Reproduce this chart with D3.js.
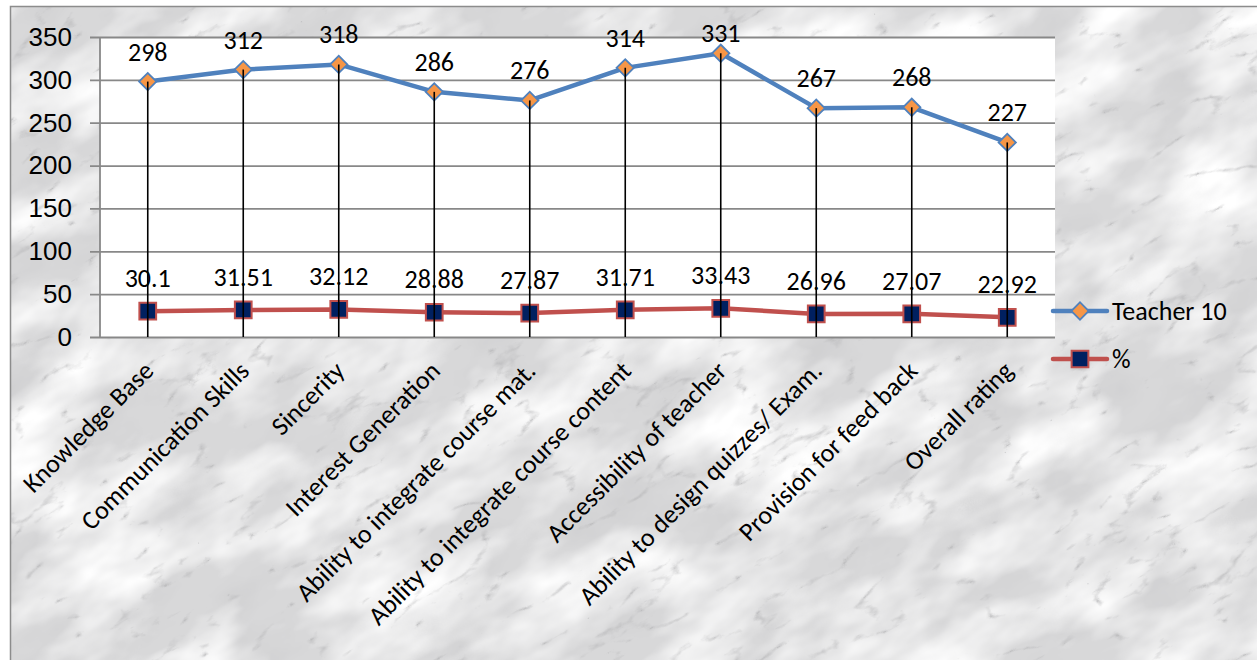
<!DOCTYPE html>
<html>
<head>
<meta charset="utf-8">
<script src="https://cdn.jsdelivr.net/npm/d3@7"></script>
<style>
  html, body { margin: 0; padding: 0; background: #fff; }
  svg { display: block; font-family: Carlito, Calibri, Lato, sans-serif; }
</style>
</head>
<body>
<svg id="chart" width="1257" height="660"></svg>
<script>
// ---- data ----
var categories = ["Knowledge Base", "Communication Skills", "Sincerity", "Interest Generation",
  "Ability to integrate course mat.", "Ability to integrate course content", "Accessibility of teacher",
  "Ability to design quizzes/ Exam.", "Provision for feed back", "Overall rating"];
var teacher = [298, 312, 318, 286, 276, 314, 331, 267, 268, 227];
var percent = [30.1, 31.51, 32.12, 28.88, 27.87, 31.71, 33.43, 26.96, 27.07, 22.92];
var percentLabels = ["30.1", "31.51", "32.12", "28.88", "27.87", "31.71", "33.43", "26.96", "27.07", "22.92"];
var yTicks = [0, 50, 100, 150, 200, 250, 300, 350];
var seriesNames = ["Teacher 10", "%"];

// ---- layout ----
var W = 1257, H = 660;
var plot = {left: 100, right: 1055, top: 37, bottom: 337};
var fontSize = 26;

var svg = d3.select("#chart");
var defs = svg.append("defs");

// marble-ish background texture
defs.append("clipPath").attr("id", "areaClip")
  .append("rect").attr("x", 10).attr("y", 6).attr("width", W).attr("height", H);

var f = defs.append("filter").attr("id", "marble")
  .attr("x", 0).attr("y", 0).attr("width", 1).attr("height", 1);
f.append("feFlood").attr("flood-color", "#d8d8d9").attr("result", "base");
// soft grey clouds
f.append("feTurbulence").attr("type", "fractalNoise").attr("baseFrequency", "0.012 0.02")
  .attr("numOctaves", 4).attr("seed", 11).attr("result", "cloud2");
f.append("feColorMatrix").attr("in", "cloud2").attr("type", "matrix")
  .attr("values", "0 0 0 0 0.63  0 0 0 0 0.63  0 0 0 0 0.64  2.2 0 0 0 -1.0").attr("result", "grey");
// white patches
f.append("feTurbulence").attr("type", "fractalNoise").attr("baseFrequency", "0.008 0.016")
  .attr("numOctaves", 4).attr("seed", 7).attr("result", "cloud");
f.append("feColorMatrix").attr("in", "cloud").attr("type", "matrix")
  .attr("values", "0 0 0 0 1  0 0 0 0 1  0 0 0 0 1  2.6 0 0 0 -1.0").attr("result", "white");
// veins
f.append("feTurbulence").attr("type", "turbulence").attr("baseFrequency", "0.01 0.025")
  .attr("numOctaves", 5).attr("seed", 3).attr("result", "turb");
f.append("feColorMatrix").attr("in", "turb").attr("type", "matrix")
  .attr("values", "0 0 0 0 0.46  0 0 0 0 0.46  0 0 0 0 0.47  -5 0 0 0 0.75").attr("result", "vein");
var m = f.append("feMerge");
m.append("feMergeNode").attr("in", "base");
m.append("feMergeNode").attr("in", "grey");
m.append("feMergeNode").attr("in", "white");
m.append("feMergeNode").attr("in", "vein");

svg.append("g").attr("clip-path", "url(#areaClip)")
  .append("g").attr("transform", "rotate(-30," + W / 2 + "," + H / 2 + ")")
  .append("rect").attr("x", -450).attr("y", -650).attr("width", 2200).attr("height", 2000)
  .attr("filter", "url(#marble)");

// chart area border
svg.append("rect").attr("x", 10.5).attr("y", 6.5).attr("width", W).attr("height", H)
  .attr("fill", "none").attr("stroke", "#8c8c8c").attr("stroke-width", 1.5);

// ---- scales ----
var x = d3.scaleBand().domain(categories).range([plot.left, plot.right]);
var cx = function(c) { return x(c) + x.bandwidth() / 2; };
var y = d3.scaleLinear().domain([0, 350]).range([plot.bottom, plot.top]);

// plot area
svg.append("rect").attr("x", plot.left).attr("y", plot.top)
  .attr("width", plot.right - plot.left).attr("height", plot.bottom - plot.top)
  .attr("fill", "#fff");

// y axis with gridlines
var yAxis = d3.axisLeft(y).tickValues(yTicks)
  .tickSize(-(plot.right - plot.left + 10)).tickPadding(18);
var gy = svg.append("g").attr("transform", "translate(" + (plot.left - 10) + ",0)").call(yAxis);
gy.select(".domain").remove();
gy.selectAll(".tick line").attr("stroke", "#888").attr("stroke-width", 1.8);
gy.selectAll(".tick text").attr("font-size", fontSize).attr("fill", "#000")
  .attr("font-family", null);
svg.append("line").attr("x1", plot.left).attr("x2", plot.left)
  .attr("y1", plot.top).attr("y2", plot.bottom)
  .attr("stroke", "#888").attr("stroke-width", 1.8);

// x axis labels (rotated)
svg.append("g").selectAll("text").data(categories).enter().append("text")
  .attr("transform", function(d) { return "translate(" + (cx(d) + 1) + "," + 366 + ") rotate(-45)"; })
  .attr("text-anchor", "end").attr("dy", "0.35em")
  .attr("font-size", fontSize).attr("fill", "#000")
  .text(function(d) { return d; });

// series lines
var line = d3.line().x(function(d, i) { return cx(categories[i]); }).y(function(d) { return y(d); });
svg.append("path").datum(teacher).attr("d", line)
  .attr("fill", "none").attr("stroke", "#4F81BD").attr("stroke-width", 4.5).attr("stroke-linejoin", "round");
svg.append("path").datum(percent).attr("d", line)
  .attr("fill", "none").attr("stroke", "#C0504D").attr("stroke-width", 4.5).attr("stroke-linejoin", "round");

// markers
var diamond = d3.symbol().type(d3.symbolSquare).size(150);
svg.append("g").selectAll("path").data(teacher).enter().append("path")
  .attr("d", diamond())
  .attr("transform", function(d, i) { return "translate(" + cx(categories[i]) + "," + y(d) + ") rotate(45)"; })
  .attr("fill", "#F79646").attr("stroke", "#4F81BD").attr("stroke-width", 1.8);

var square = d3.symbol().type(d3.symbolSquare).size(280);
svg.append("g").selectAll("path").data(percent).enter().append("path")
  .attr("d", square())
  .attr("transform", function(d, i) { return "translate(" + cx(categories[i]) + "," + y(d) + ")"; })
  .attr("fill", "#002060").attr("stroke", "#C0504D").attr("stroke-width", 2);

// drop lines (from highest point to axis)
svg.append("g").selectAll("line").data(teacher).enter().append("line")
  .attr("x1", function(d, i) { return cx(categories[i]); })
  .attr("x2", function(d, i) { return cx(categories[i]); })
  .attr("y1", function(d) { return y(d); })
  .attr("y2", y(0))
  .attr("stroke", "#000").attr("stroke-width", 1.6);

// data labels
svg.append("g").selectAll("text").data(teacher).enter().append("text")
  .attr("x", function(d, i) { return cx(categories[i]); })
  .attr("y", function(d) { return Math.max(y(d) - 21, 42); })
  .attr("text-anchor", "middle").attr("font-size", fontSize).attr("fill", "#000")
  .text(function(d) { return d; });

svg.append("g").selectAll("text").data(percent).enter().append("text")
  .attr("x", function(d, i) { return cx(categories[i]); })
  .attr("y", function(d) { return y(d) - 24; })
  .attr("text-anchor", "middle").attr("font-size", fontSize).attr("fill", "#000")
  .text(function(d, i) { return percentLabels[i]; });

// legend
var legend = svg.append("g").attr("transform", "translate(1053,0)");
var legY = [311, 359];
legend.selectAll("line").data(seriesNames).enter().append("line")
  .attr("x1", 0).attr("x2", 54)
  .attr("y1", function(d, i) { return legY[i]; }).attr("y2", function(d, i) { return legY[i]; })
  .attr("stroke", function(d, i) { return i === 0 ? "#4F81BD" : "#C0504D"; })
  .attr("stroke-width", 4.5).attr("stroke-linecap", "round");
legend.append("path").attr("d", diamond())
  .attr("transform", "translate(27," + legY[0] + ") rotate(45)")
  .attr("fill", "#F79646").attr("stroke", "#4F81BD").attr("stroke-width", 1.8);
legend.append("path").attr("d", square())
  .attr("transform", "translate(27," + legY[1] + ")")
  .attr("fill", "#002060").attr("stroke", "#C0504D").attr("stroke-width", 2);
legend.selectAll("text").data(seriesNames).enter().append("text")
  .attr("x", 59).attr("y", function(d, i) { return legY[i]; }).attr("dy", "0.35em")
  .attr("font-size", fontSize).attr("fill", "#000")
  .text(function(d) { return d; });
</script>
</body>
</html>
